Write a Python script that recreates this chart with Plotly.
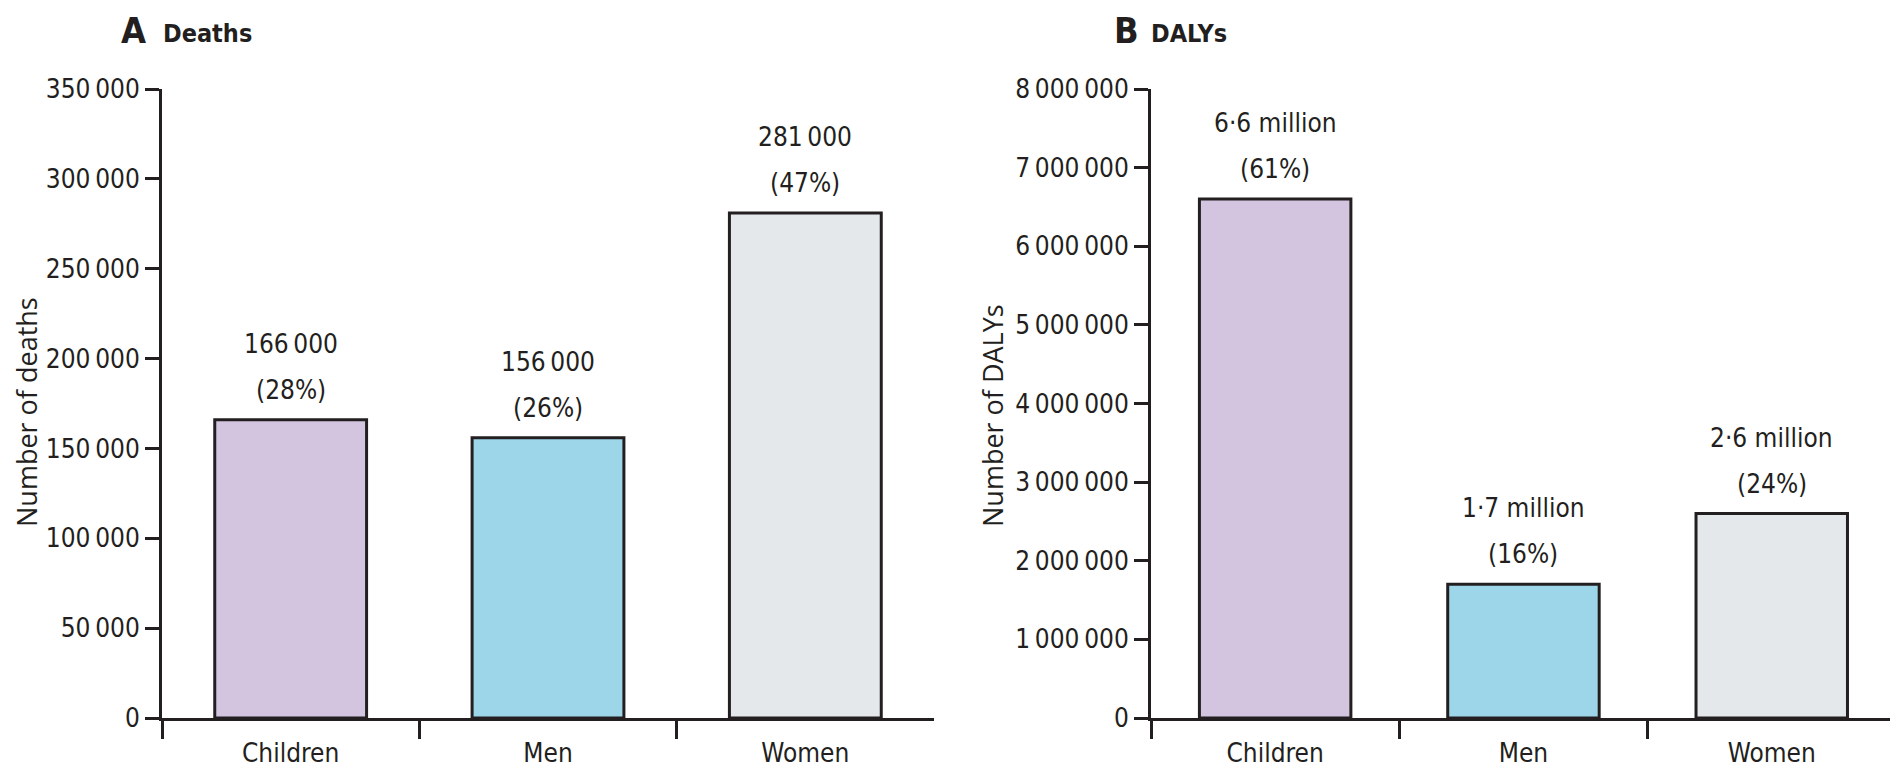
import plotly.graph_objects as go

# Data
groups = ["Children", "Men", "Women"]
deaths = [166000, 156000, 281000]
deaths_pct = [28, 26, 47]
dalys = [6600000, 1700000, 2600000]
dalys_pct = [61, 16, 24]
bar_colors = ["#D3C4E0", "#9DD6E8", "#E4E8EB"]

deaths_ticks = [0, 50000, 100000, 150000, 200000, 250000, 300000, 350000]
dalys_ticks = [0, 1000000, 2000000, 3000000, 4000000, 5000000, 6000000, 7000000, 8000000]

INK = "#231F20"
FONT = "DejaVu Sans Condensed, Liberation Sans Narrow, sans-serif"
TITLE_FONT = "Open Sans, Noto Sans, sans-serif"
FS = 26
W, H = 1890, 767


def grouped(n):
    return f"{n:,}".replace(",", "\u2009")


def millions(n):
    return f"{n / 1e6:.1f}".replace(".", "\u00b7") + " million"


fig = go.Figure()

fig.add_trace(go.Bar(
    x=groups, y=deaths, xaxis="x", yaxis="y",
    marker=dict(color=bar_colors, line=dict(color=INK, width=3)),
    width=0.59, hoverinfo="x+y",
))
fig.add_trace(go.Bar(
    x=groups, y=dalys, xaxis="x2", yaxis="y2",
    marker=dict(color=bar_colors, line=dict(color=INK, width=3)),
    width=0.61, hoverinfo="x+y",
))

# plot-area geometry in pixels
left_x0, left_x1 = 162, 934
right_x0, right_x1 = 1151, W
cat_w_right = 248.3
y_top, y_bot = 89, 718

xdom1 = [left_x0 / W, left_x1 / W]
xdom2 = [right_x0 / W, right_x1 / W]
ydom = [(H - y_bot) / H, (H - y_top) / H]

axis_common = dict(
    showline=True, linecolor=INK, linewidth=3,
    ticks="outside", tickcolor=INK, tickwidth=3,
    showgrid=False, zeroline=False, automargin=False,
    tickfont=dict(family=FONT, size=FS, color=INK),
)

fig.update_layout(
    width=W, height=H,
    margin=dict(l=0, r=0, t=0, b=0, autoexpand=False),
    paper_bgcolor="white", plot_bgcolor="white",
    showlegend=False,
    font=dict(family=FONT, size=FS, color=INK),
    xaxis=dict(domain=xdom1, anchor="y", type="category", range=[-0.5, 2.5],
               tickson="boundaries", ticklen=18, ticklabelstandoff=10, **axis_common),
    yaxis=dict(domain=ydom, anchor="x", range=[0, 350000],
               tickvals=deaths_ticks, ticktext=[grouped(v) for v in deaths_ticks],
               ticklen=14, **axis_common),
    xaxis2=dict(domain=xdom2, anchor="y2", type="category",
                range=[-0.5, -0.5 + (right_x1 - right_x0) / cat_w_right],
                tickson="boundaries", ticklen=18, ticklabelstandoff=10, **axis_common),
    yaxis2=dict(domain=ydom, anchor="x2", range=[0, 8000000],
                tickvals=dalys_ticks, ticktext=[grouped(v) for v in dalys_ticks],
                ticklen=14, **axis_common),
)

ann = []
# value labels above bars
for g, v, p in zip(groups, deaths, deaths_pct):
    ann.append(dict(x=g, y=v, xref="x", yref="y", text=grouped(v), showarrow=False,
                    yanchor="middle", yshift=76, font=dict(size=FS)))
    ann.append(dict(x=g, y=v, xref="x", yref="y", text=f"({p}%)", showarrow=False,
                    yanchor="middle", yshift=30, font=dict(size=FS)))
for g, v, p in zip(groups, dalys, dalys_pct):
    ann.append(dict(x=g, y=v, xref="x2", yref="y2", text=millions(v), showarrow=False,
                    yanchor="middle", yshift=76, font=dict(size=FS)))
    ann.append(dict(x=g, y=v, xref="x2", yref="y2", text=f"({p}%)", showarrow=False,
                    yanchor="middle", yshift=30, font=dict(size=FS)))

# panel titles
for letter, name, lx, nx in [("A", "Deaths", 119, 161), ("B", "DALYs", 1112, 1149)]:
    ann.append(dict(x=lx / W, y=1 - 31 / H, xref="paper", yref="paper", text=f"<b>{letter}</b>",
                    showarrow=False, xanchor="left", yanchor="middle",
                    font=dict(size=36, color=INK)))
    ann.append(dict(x=nx / W, y=1 - 33 / H, xref="paper", yref="paper", text=f"<b>{name}</b>",
                    showarrow=False, xanchor="left", yanchor="middle",
                    font=dict(size=25, color=INK)))

# axis titles
ann.append(dict(x=26 / W, y=1 - 412 / H, xref="paper", yref="paper", text="Number of deaths",
                textangle=-90, showarrow=False, xanchor="center", yanchor="middle",
                font=dict(family=TITLE_FONT, size=27)))
ann.append(dict(x=992 / W, y=1 - 415 / H, xref="paper", yref="paper", text="Number of DALYs",
                textangle=-90, showarrow=False, xanchor="center", yanchor="middle",
                font=dict(family=TITLE_FONT, size=27)))

fig.update_layout(annotations=ann)
fig.write_html("out.html")
